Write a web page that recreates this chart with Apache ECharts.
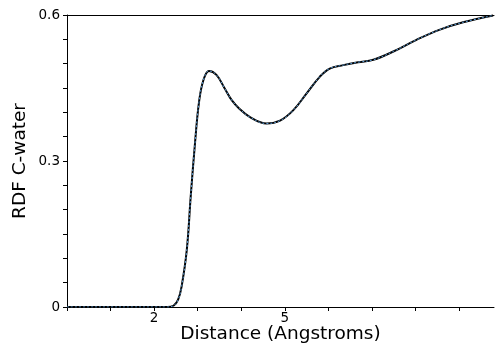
<!DOCTYPE html>
<html>
<head>
<meta charset="utf-8">
<script src="https://cdn.jsdelivr.net/npm/echarts@6/dist/echarts.min.js"></script>
<style>
	html, body { margin: 0; padding: 0; background: #fff; }
	#chart { width: 495px; height: 345px; }
</style>
</head>
<body>
<div id="chart"></div>
<script>
// distance (Angstroms) and RDF values
var distance = [0, 0.5, 1.0, 1.5, 2.0, 2.3, 2.45, 2.55, 2.63, 2.75, 2.84, 2.94, 3.03, 3.13, 3.26, 3.43, 3.62, 3.78, 3.95, 4.2, 4.58, 4.89, 5.19, 5.5, 5.8, 6.03, 6.34, 6.68, 7.03, 7.49, 8.02, 8.56, 9.09, 9.78];
var rdf = [0, 0, 0, 0, 0, 0, 0.003, 0.015, 0.042, 0.118, 0.228, 0.339, 0.421, 0.466, 0.485, 0.477, 0.449, 0.425, 0.408, 0.39, 0.377, 0.383, 0.404, 0.439, 0.473, 0.49, 0.497, 0.503, 0.508, 0.525, 0.549, 0.57, 0.585, 0.599];
var xLabels = [2, 5];
var yLabels = [0, 0.3, 0.6];

var points = [];
for(var i = 0; i < distance.length; i++) {
	points.push([distance[i], rdf[i]]);
}

var chart = echarts.init(document.getElementById('chart'));
var font = "DejaVu Sans";

chart.setOption({
	animation: false,
	grid: { left: 67, right: 1, top: 15, bottom: 38, outerBoundsMode: 'none', containLabel: false },
	xAxis: [{
		type: 'value',
		min: 0,
		max: 9.8,
		interval: 1,
		name: 'Distance (Angstroms)',
		nameLocation: 'middle',
		nameGap: 18,
		nameMoveOverlap: false,
		nameTextStyle: { fontFamily: font, fontSize: 18.5, color: '#000' },
		axisLine: { lineStyle: { color: '#000', width: 1 } },
		axisTick: { length: 4, lineStyle: { color: '#000' } },
		axisLabel: {
			fontFamily: font, fontSize: 13.5, color: '#000', margin: 4,
			showMaxLabel: false,
			formatter: function(v) { return xLabels.indexOf(v) >= 0 ? String(v) : ''; }
		},
		splitLine: { show: false }
	}, {
		type: 'value',
		position: 'top',
		min: 0,
		max: 9.8,
		axisLine: { show: true, lineStyle: { color: '#000', width: 1 } },
		axisTick: { show: false },
		axisLabel: { show: false },
		splitLine: { show: false }
	}],
	yAxis: {
		type: 'value',
		min: 0,
		max: 0.6,
		interval: 0.05,
		name: 'RDF C-water',
		nameLocation: 'middle',
		nameGap: 37,
		nameMoveOverlap: false,
		nameTextStyle: { fontFamily: font, fontSize: 18.5, color: '#000' },
		axisLine: { show: true, lineStyle: { color: '#000', width: 1 } },
		axisTick: { length: 4, lineStyle: { color: '#000' } },
		axisLabel: {
			fontFamily: font, fontSize: 13.5, color: '#000', margin: 7,
			formatter: function(v) {
				var r = Math.round(v * 100) / 100;
				return yLabels.indexOf(r) >= 0 ? String(r) : '';
			}
		},
		splitLine: { show: false }
	},
	series: [{
		type: 'line',
		data: points,
		smooth: 0.4,
		showSymbol: false,
		lineStyle: { color: '#000', width: 2 }
	}, {
		type: 'line',
		data: points,
		smooth: 0.4,
		showSymbol: false,
		lineStyle: { color: '#5a9bd5', width: 1, type: [2, 2] }
	}]
});
</script>
</body>
</html>
